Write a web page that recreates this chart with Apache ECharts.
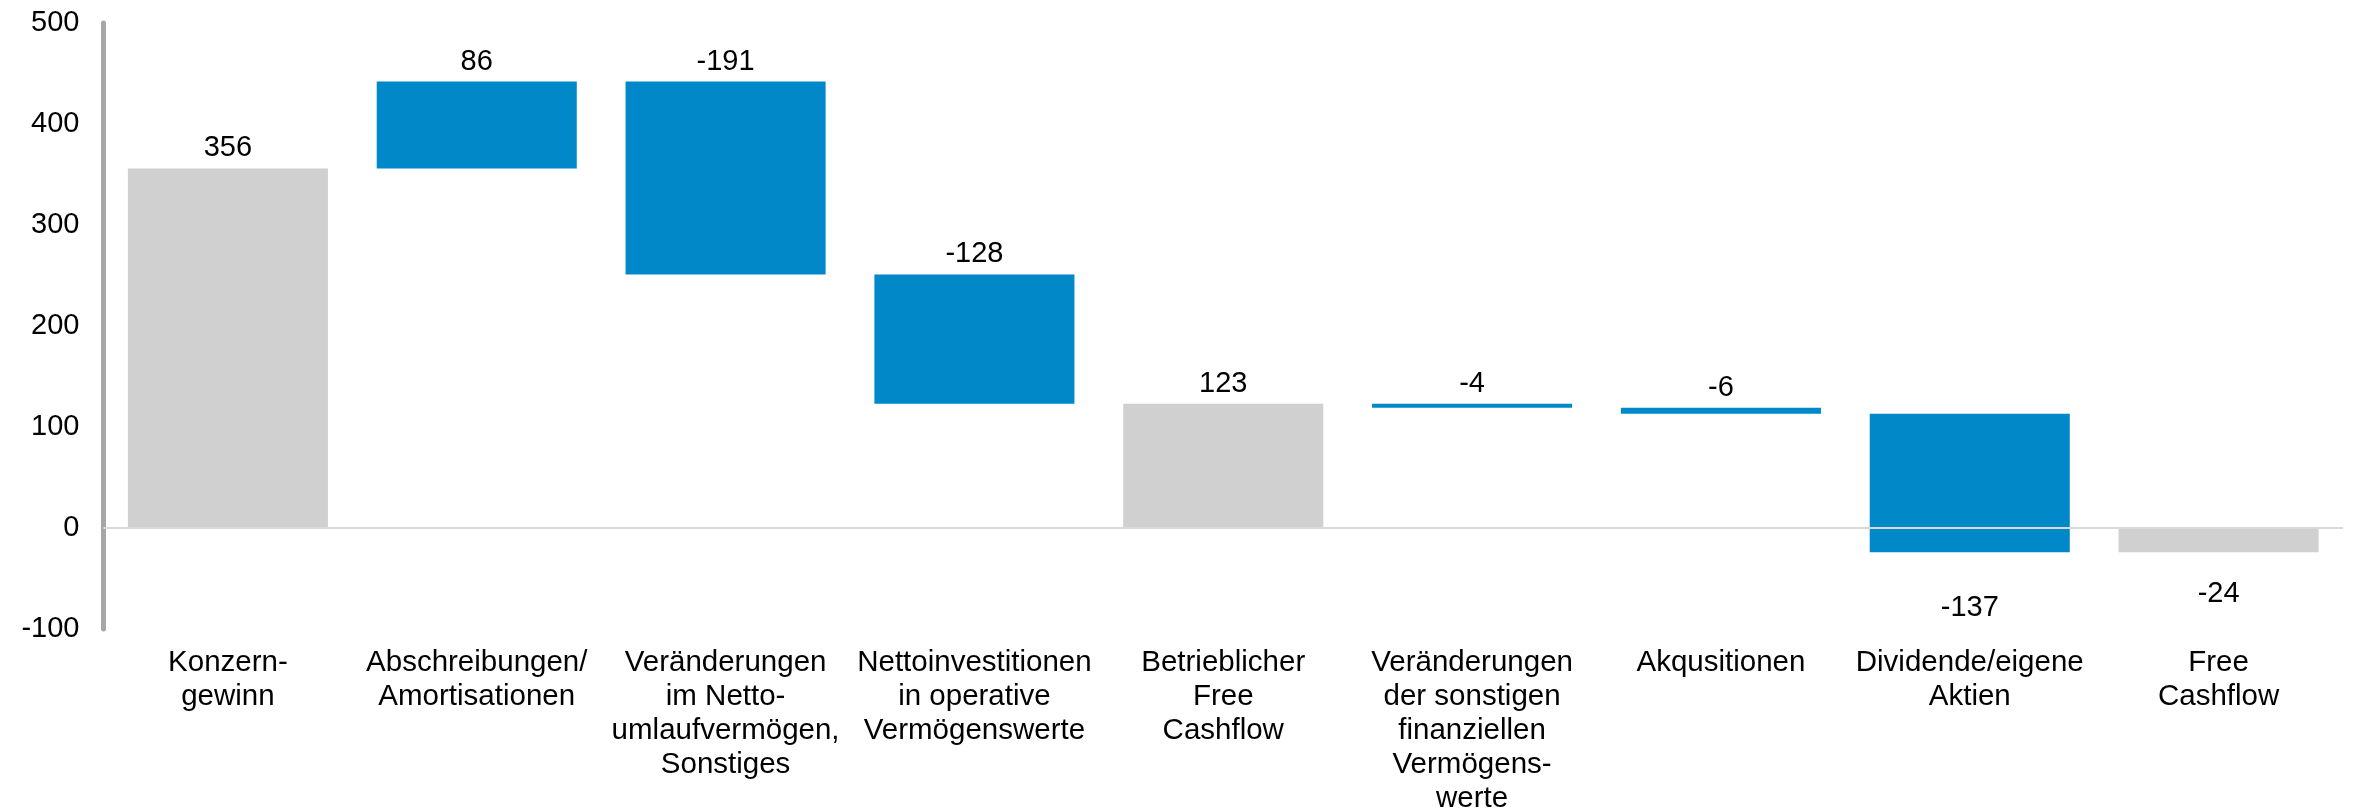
<!DOCTYPE html>
<html>
<head>
<meta charset="utf-8">
<script src="https://cdn.jsdelivr.net/npm/echarts@6/dist/echarts.min.js"></script>
<style>
html,body{margin:0;padding:0;background:#fff;}
#chart{width:2354px;height:812px;}
</style>
</head>
<body>
<div id="chart"></div>
<script>
const categories = [
  'Konzern-\ngewinn',
  'Abschreibungen/\nAmortisationen',
  'Veränderungen\nim Netto-\numlaufvermögen,\nSonstiges',
  'Nettoinvestitionen\nin operative\nVermögenswerte',
  'Betrieblicher\nFree\nCashflow',
  'Veränderungen\nder sonstigen\nfinanziellen\nVermögens-\nwerte',
  'Akqusitionen',
  'Dividende/eigene\nAktien',
  'Free\nCashflow'
];
const values = [356, 86, -191, -128, 123, -4, -6, -137, -24];
const isTotal = [true, false, false, false, true, false, false, false, true];
const yTicks = [-100, 0, 100, 200, 300, 400, 500];

const FONT = '"Liberation Sans", Arial, sans-serif';
const BLUE = '#0088C8';
const GREY = '#D0D0D0';

// build waterfall ranges
let running = 0;
const data = values.map((v, i) => {
  let lo, hi;
  if (isTotal[i]) {
    lo = Math.min(0, v); hi = Math.max(0, v); running = v;
  } else {
    const next = running + v;
    lo = Math.min(running, next); hi = Math.max(running, next); running = next;
  }
  return [i, lo, hi, v, isTotal[i] ? 1 : 0];
});

const chart = echarts.init(document.getElementById('chart'), null, {renderer: 'canvas'});
chart.setOption({
  animation: false,
  backgroundColor: '#fff',
  grid: {left: 103.5, right: 11, top: 23, bottom: 183, containLabel: false, outerBoundsMode: 'none'},
  xAxis: {
    type: 'category',
    data: categories,
    axisLine: {show: false},
    axisTick: {show: false},
    axisLabel: {
      interval: 0,
      margin: 17,
      color: '#000',
      fontFamily: FONT,
      fontSize: 29.5,
      lineHeight: 34,
      align: 'center',
      verticalAlign: 'top'
    }
  },
  yAxis: {
    type: 'value',
    min: yTicks[0],
    max: yTicks[yTicks.length - 1],
    interval: 100,
    axisLine: {show: true, lineStyle: {color: '#A6A6A6', width: 5}},
    axisTick: {show: false},
    splitLine: {show: false},
    axisLabel: {color: '#000', fontFamily: FONT, fontSize: 29, margin: 24}
  },
  series: [
    {
      type: 'line',
      data: [],
      z: 1,
      markLine: {
        silent: true,
        symbol: 'none',
        label: {show: false},
        lineStyle: {color: '#D9D9D9', width: 2, type: 'solid'},
        data: [{yAxis: 0}]
      }
    },
    {
      type: 'custom',
      z: 2,
      clip: false,
      data: data,
      encode: {x: 0, y: [1, 2]},
      renderItem: function (params, api) {
        const i = api.value(0), lo = api.value(1), hi = api.value(2);
        const v = api.value(3), tot = api.value(4);
        const pTop = api.coord([i, hi]);
        const pBot = api.coord([i, lo]);
        const w = api.size([1, 0])[0] * 0.804;
        const below = lo < 0;
        return {
          type: 'group',
          children: [
            {
              type: 'rect',
              shape: {x: pTop[0] - w / 2, y: pTop[1], width: w, height: Math.max(pBot[1] - pTop[1], 1)},
              style: {fill: tot ? GREY : BLUE}
            },
            {
              type: 'text',
              style: {
                x: pTop[0],
                y: below ? pBot[1] + (tot ? 42 : 56) : pTop[1] - 20,
                text: String(v),
                fill: '#000',
                font: '29px ' + FONT,
                align: 'center',
                verticalAlign: 'middle'
              }
            }
          ]
        };
      }
    }
  ]
});
</script>
</body>
</html>
